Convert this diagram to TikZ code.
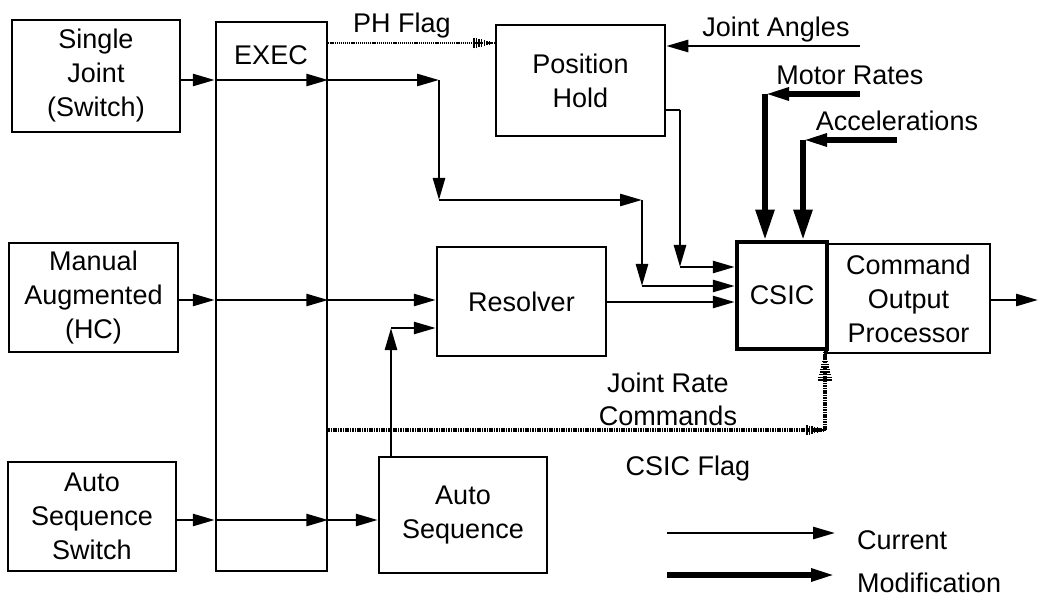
\documentclass[tikz,border=0pt]{standalone}
\usepackage{fontspec}
\setmainfont{Liberation Sans}
\usetikzlibrary{arrows.meta,decorations.markings}
\begin{document}
\begin{tikzpicture}[x=1pt,y=-1pt,
  box/.style={draw,line width=2.5pt,inner sep=0pt,align=center,font=\fontsize{27}{34}\selectfont},
  txt/.style={inner sep=0pt,align=center,font=\fontsize{27}{33}\selectfont},
  ln/.style={line width=2.6pt},
  arr/.style={line width=2.6pt,-{Triangle[length=22pt,width=12pt]}},
  thkarr/.style={line width=5.5pt,-{Triangle[length=24pt,width=12pt]}},
  bigarr/.style={line width=5.5pt,-{Triangle[length=30pt,width=18pt]}},
  flag/.style={line width=2.2pt,dash pattern=on 1.2pt off 0.9pt},
  flagthk/.style={line width=4.5pt,dash pattern=on 1.6pt off 0.8pt},
  hatch/.style 2 args={postaction={decorate,decoration={markings,mark=at position 1 with {\foreach \d in {0,2.6,...,#1}{\pgfmathsetmacro\hh{0.6+#2*\d/#1}\draw[solid,line width=1.4pt] (-\d pt,-\hh pt)--(-\d pt,\hh pt);}}}}}
]
\useasboundingbox (0,0) rectangle (1039,596);

% boxes
\node[box,minimum width=168pt,minimum height=112pt] (sj) at (96,76) {Single\\Joint\\(Switch)};
\node[box,minimum width=111pt,minimum height=549pt] (exec) at (271.5,296.5) {};
\node[txt] (execl) at (271,55) {EXEC};
\node[box,minimum width=169pt,minimum height=109pt] (man) at (93.5,297.5) {Manual\\Augmented\\(HC)};
\node[box,minimum width=168pt,minimum height=109pt] (ass) at (92,516.5) {Auto\\Sequence\\Switch};
\node[box,minimum width=169pt,minimum height=111pt] (ph) at (580.5,80.5) {Position\\Hold};
\node[box,minimum width=169pt,minimum height=109pt] (res) at (521.5,301.5) {Resolver};
\node[box,minimum width=168pt,minimum height=116pt] (aseq) at (463,515) {Auto\\Sequence};
\node[box,line width=4.5pt,minimum width=90pt,minimum height=107pt] (csic) at (782,295.5) {CSIC};
\node[box,minimum width=163pt,minimum height=109pt] (cop) at (908.5,298.5) {Command\\Output\\Processor};

% labels
\node[txt,anchor=base] (lph) at (402,33) {PH Flag};
\node[txt,anchor=base] (lja) at (776,37) {Joint Angles};
\node[txt,anchor=base] (lmr) at (850,85) {Motor Rates};
\node[txt,anchor=base] (lac) at (897,131) {Accelerations};
\node[txt] (ljr) at (668,399) {Joint Rate\\Commands};
\node[txt,anchor=base] (lcf) at (688,475) {CSIC Flag};
\node[txt,anchor=base west] (lcur) at (857,549) {Current};
\node[txt,anchor=base west] (lmod) at (857,592) {Modification};

% routing coordinates
\coordinate (r1) at (0,80);
\coordinate (k1) at (439,80);
\coordinate (k2) at (439,200);
\coordinate (k3) at (642,200);
\coordinate (k4) at (642,286);
\coordinate (p1) at (680,110);
\coordinate (p2) at (680,267);
\coordinate (r2) at (0,300);
\coordinate (r3) at (0,302);
\coordinate (r4) at (0,520);
\coordinate (a1) at (391,328);
\coordinate (ja) at (860,46);
\coordinate (mr0) at (860,94);
\coordinate (mr1) at (765,94);
\coordinate (ac0) at (897,140);
\coordinate (ac1) at (803,140);
\coordinate (out) at (1038,300);
\coordinate (f1) at (0,43);
\coordinate (f2) at (825,430);
\coordinate (l1) at (667,533);
\coordinate (l2) at (835,533);
\coordinate (l3) at (667,575);
\coordinate (l4) at (835,575);

% single joint path
\draw[arr] (sj.east|-r1) -- (exec.west|-r1);
\draw[arr] (exec.west|-r1) -- (exec.east|-r1);
\draw[arr] (exec.east|-r1) -- (k1);
\draw[arr] (k1) -- (k2);
\draw[arr] (k2) -- (k3);
\draw[arr] (k3) -- (k4);
\draw[arr] (k4) -- (csic.west|-k4);

% position hold out
\draw[ln] (ph.east|-p1) -- (p1);
\draw[arr] (p1) -- (p2);
\draw[arr] (p2) -- (csic.west|-p2);

% manual path
\draw[arr] (man.east|-r2) -- (exec.west|-r2);
\draw[arr] (exec.west|-r2) -- (exec.east|-r2);
\draw[arr] (exec.east|-r2) -- (res.west|-r2);
\draw[arr] (res.east|-r3) -- (csic.west|-r3);

% auto sequence path
\draw[arr] (ass.east|-r4) -- (exec.west|-r4);
\draw[arr] (exec.west|-r4) -- (exec.east|-r4);
\draw[arr] (exec.east|-r4) -- (aseq.west|-r4);
\draw[arr] (aseq.north-|a1) -- (a1);
\draw[arr] (a1) -- (res.west|-a1);

% external inputs
\draw[arr] (ja) -- (ph.east|-ja);
\draw[thkarr] (mr0) -- (mr1);
\draw[bigarr] (mr1) -- (csic.north-|mr1);
\draw[thkarr] (ac0) -- (ac1);
\draw[bigarr] (ac1) -- (csic.north-|ac1);
\draw[arr] (cop.east|-out) -- (out);

% flags
\draw[flag,hatch={22}{5}] (exec.east|-f1) -- (ph.west|-f1);
\draw[flagthk,hatch={20}{5}] (exec.east|-f2) -- (f2);
\draw[flagthk,hatch={30}{7}] (f2) -- (csic.south-|f2);

% legend
\draw[arr] (l1) -- (l2);
\draw[thkarr] (l3) -- (l4);
\end{tikzpicture}
\end{document}
